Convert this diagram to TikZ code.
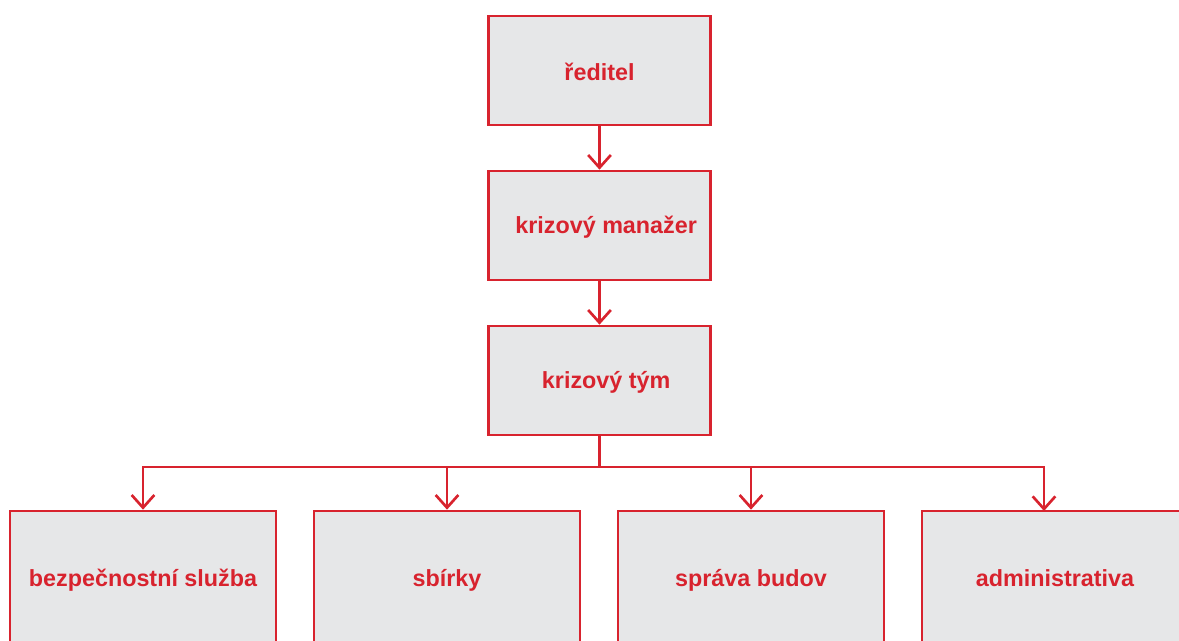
\documentclass[tikz,border=0pt]{standalone}
\usepackage{fontspec}
\setmainfont{Liberation Sans}
\usetikzlibrary{arrows.meta}
\definecolor{cred}{RGB}{216,35,46}
\definecolor{cgray}{RGB}{230,231,232}
\begin{document}
\begin{tikzpicture}[x=0.75pt,y=-0.75pt,
  box/.style={draw=cred,fill=cgray,line width=2pt,inner sep=0pt,
    font=\fontsize{17.5pt}{20pt}\selectfont\bfseries,text=cred,
    text height=15.5pt,text depth=3.5pt},
  topbox/.style={box,minimum width=222*0.75pt,minimum height=109*0.75pt},
  botbox/.style={box,minimum width=266*0.75pt,minimum height=134*0.75pt},
  conn/.style={draw=cred,line width=2pt},
  arr/.style={conn,-{Straight Barb[length=9.5pt,width=17pt,line width=2pt]}}]
\useasboundingbox (0,0) rectangle (1179,640);
\clip (0,0) rectangle (1179,640);
\node[topbox] (dir) at (599.5,70.5) {\raisebox{-1.5pt}{ředitel}};
\node[topbox] (mgr) at (599.5,225.5) {\hspace*{10pt}krizový manažer};
\node[topbox] (tym) at (599.5,380.5) {\hspace*{10pt}krizový tým};
\node[botbox] (b1) at (143,578) {bezpečnostní služba};
\node[botbox] (b2) at (447,578) {sbírky};
\node[botbox] (b3) at (751,578) {správa budov};
\node[botbox] (b4) at (1055,578) {administrativa};
\coordinate (bus) at (599.5,467);
\coordinate (a4) at (1044,511);
\draw[arr] (dir.south) -- (mgr.north);
\draw[arr] (mgr.south) -- (tym.north);
\draw[conn] (tym.south) -- (bus);
\draw[arr] (bus) -| (b1.north);
\draw[arr] (bus) -| (b2.north);
\draw[arr] (bus) -| (b3.north);
\draw[arr] (bus) -| (a4);
\end{tikzpicture}
\end{document}
